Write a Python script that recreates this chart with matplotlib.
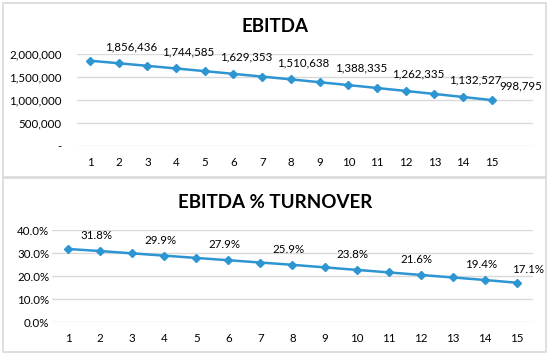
import matplotlib
matplotlib.use('Agg')
import matplotlib.pyplot as plt
from matplotlib.patches import Rectangle
from matplotlib.ticker import FuncFormatter

plt.rcParams['font.family'] = ['Lato', 'DejaVu Sans']

years = list(range(1, 16))
ebitda = [1856436, 1801000, 1744585, 1687500, 1629353, 1570000, 1510638, 1450000,
          1388335, 1326000, 1262335, 1198000, 1132527, 1066000, 998795]
margin = [31.8, 30.9, 29.9, 28.9, 27.9, 26.9, 25.9, 24.9,
          23.8, 22.7, 21.6, 20.5, 19.4, 18.3, 17.1]
labelled = [1, 3, 5, 7, 9, 11, 13, 15]

blue = '#2e95d3'
grid = '#d9d9d9'
fs = 8.3

fig = plt.figure(figsize=(5.5, 3.56), dpi=100)

# panel frames
for y0 in (0.503, 0.011):
    fig.patches.append(Rectangle((0.0055, y0), 0.987, 0.489, transform=fig.transFigure,
                                 fill=False, edgecolor=grid, linewidth=1.2))

fig.text(0.5, 1 - 27/356, 'EBITDA', ha='center', va='center', fontsize=13.5, fontweight='bold')
fig.text(0.5, 1 - 203/356, 'EBITDA % TURNOVER', ha='center', va='center', fontsize=13.5, fontweight='bold')

def style(ax, ypad):
    for s in ax.spines.values():
        s.set_visible(False)
    ax.grid(axis='y', color=grid, linewidth=1)
    ax.set_axisbelow(True)
    ax.tick_params(length=0, labelsize=fs, colors='black')
    ax.tick_params(axis='x', pad=8)
    ax.tick_params(axis='y', pad=ypad)
    ax.set_xticks(years)

# top: EBITDA
ax1 = fig.add_axes([0.140, 0.590, 0.829, 0.258])
ax1.plot(years, ebitda, color=blue, lw=1.8, marker='D', ms=4.2)
ax1.set_xlim(0.55, 16.43)
ax1.set_ylim(0, 2000000)
ax1.set_yticks([0, 500000, 1000000, 1500000, 2000000])
ax1.yaxis.set_major_formatter(FuncFormatter(lambda v, p: '-' if v == 0 else f'{v:,.0f}'))
style(ax1, 11)
for x in labelled:
    v = ebitda[x - 1]
    dx = 7 if x == 15 else 15
    ax1.annotate(f'{v:,}', (x, v), xytext=(dx, 14), textcoords='offset pixels',
                 ha='left', va='center', fontsize=fs)

# bottom: EBITDA % turnover
ax2 = fig.add_axes([0.0945, 0.0955, 0.8745, 0.258])
ax2.plot(years, margin, color=blue, lw=1.8, marker='D', ms=4.2)
ax2.set_xlim(0.5, 15.5)
ax2.set_ylim(0, 40)
ax2.set_yticks([0, 10, 20, 30, 40])
ax2.yaxis.set_major_formatter(FuncFormatter(lambda v, p: f'{v:.1f}%'))
style(ax2, 2)
for x in labelled:
    v = margin[x - 1]
    dx = -5 if x == 15 else 12
    ax2.annotate(f'{v:.1f}%', (x, v), xytext=(dx, 13), textcoords='offset pixels',
                 ha='left', va='center', fontsize=fs)

fig.savefig('out.png', dpi=100)
